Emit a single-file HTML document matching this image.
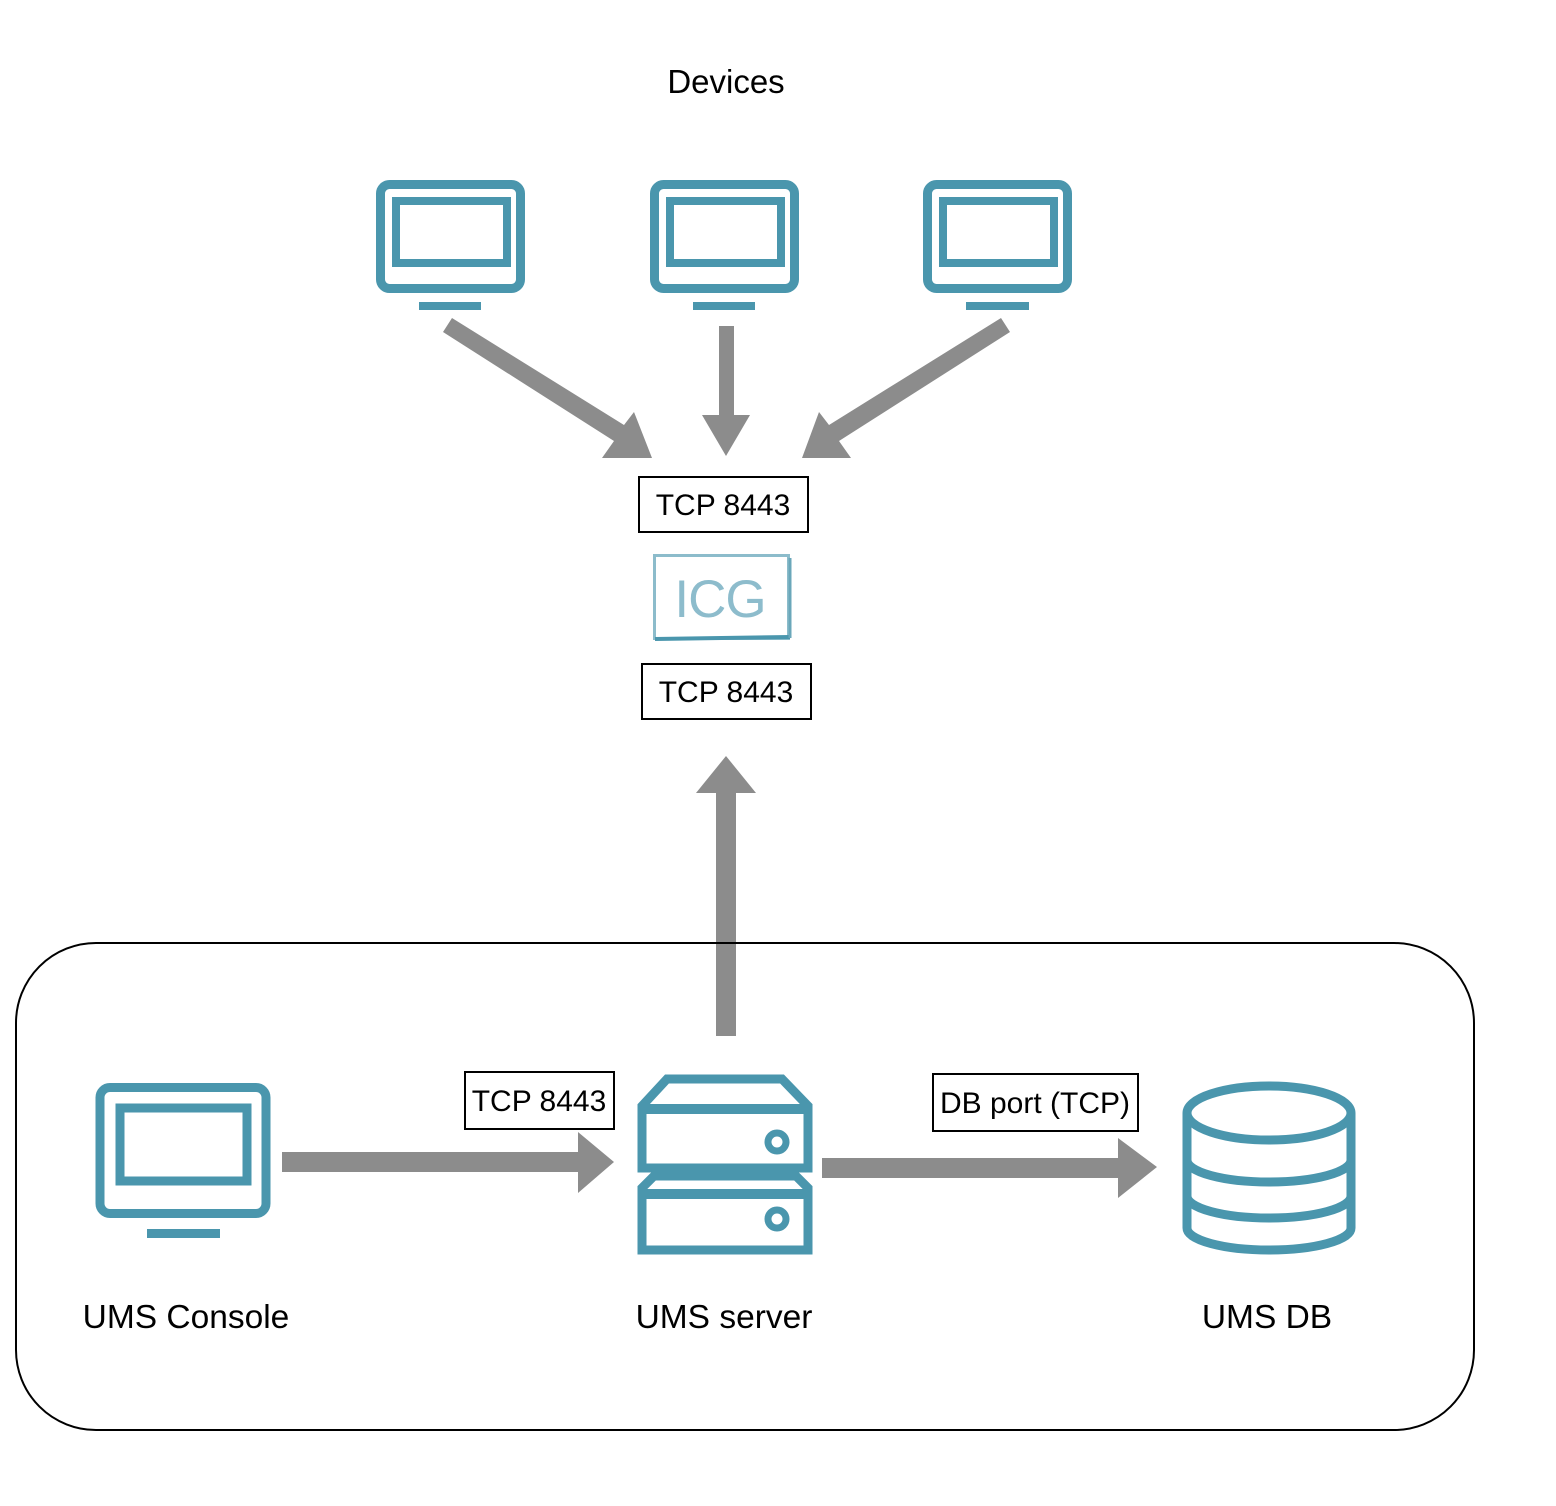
<!DOCTYPE html>
<html><head><meta charset="utf-8"><style>
html,body{margin:0;padding:0;background:#fff;}
svg{display:block;font-family:"Liberation Sans",Arial,sans-serif;}
</style></head><body>
<svg width="1556" height="1506" viewBox="0 0 1556 1506" xmlns="http://www.w3.org/2000/svg">
<rect width="1556" height="1506" fill="#fff"/>
<text x="726" y="93" font-size="33" text-anchor="middle" fill="#000">Devices</text>

<g fill="none" stroke="#4a96ad">
  <rect x="380.5" y="184.5" width="140" height="104" rx="9" stroke-width="9"/>
  <rect x="396" y="201" width="111" height="62" stroke-width="8"/>
  <rect x="654.5" y="184.5" width="140" height="104" rx="9" stroke-width="9"/>
  <rect x="670" y="201" width="111" height="62" stroke-width="8"/>
  <rect x="927.5" y="184.5" width="140" height="104" rx="9" stroke-width="9"/>
  <rect x="943" y="201" width="111" height="62" stroke-width="8"/>
  <rect x="100" y="1087.5" width="166" height="126" rx="10" stroke-width="9"/>
  <rect x="120" y="1108" width="127" height="73" stroke-width="9"/>
  <path d="M642 1168 V1106 L667 1079 H782 L808 1106 V1168 Z" stroke-width="9"/>
  <line x1="640" y1="1109" x2="810" y2="1109" stroke-width="10"/>
  <circle cx="777" cy="1142" r="9" stroke-width="7"/>
  <path d="M642 1250 V1188 L654 1176 H796 L808 1188 V1250 Z" stroke-width="9"/>
  <line x1="640" y1="1194" x2="810" y2="1194" stroke-width="10"/>
  <circle cx="777" cy="1219" r="9" stroke-width="7"/>
  <ellipse cx="1269" cy="1113" rx="82" ry="27" stroke-width="9"/>
  <path d="M1187 1113 V1228 A82 22 0 0 0 1351 1228 V1113" stroke-width="9"/>
  <path d="M1187 1160 A82 22 0 0 0 1351 1160" stroke-width="9"/>
  <path d="M1187 1196 A82 22 0 0 0 1351 1196" stroke-width="9"/>
</g>
<g fill="#4a96ad">
  <rect x="419" y="302" width="62" height="8"/>
  <rect x="693" y="302" width="62" height="8"/>
  <rect x="966" y="302" width="63" height="8"/>
  <rect x="147" y="1229" width="73" height="9"/>
</g>

<g fill="#8c8c8c">
  <polygon points="443,332 452,318 624,425 634,412 652,458 602,458 614,441"/>
  <polygon points="719,326 734,326 734,415 750,415 726,456 702,415 719,415"/>
  <polygon points="1010,332 1001,318 829,425 819,412 802,458 851,458 839,441"/>
  <polygon points="716,1036 736,1036 736,793 756,793 726,756 696,793 716,793"/>
  <polygon points="282,1152 578,1152 578,1132 614,1162 578,1193 578,1172 282,1172"/>
  <polygon points="822,1158 1118,1158 1118,1138 1157,1167 1118,1198 1118,1178 822,1178"/>
</g>

<g fill="#fff" stroke="#000" stroke-width="2">
  <rect x="639" y="477" width="169" height="55"/>
  <rect x="642" y="664" width="169" height="55"/>
  <rect x="465" y="1072" width="149" height="57"/>
  <rect x="933" y="1074" width="205" height="57"/>
</g>
<g font-size="30" fill="#000" text-anchor="middle">
  <text x="723" y="515">TCP 8443</text>
  <text x="726" y="702">TCP 8443</text>
  <text x="539" y="1111">TCP 8443</text>
  <text x="1035" y="1113">DB port (TCP)</text>
</g>

<rect x="654.5" y="555.5" width="134" height="83" fill="#fff" stroke="#8cbccb" stroke-width="3"/>
<line x1="655" y1="639" x2="790" y2="637" stroke="#4a96ad" stroke-width="4"/>
<line x1="790" y1="558" x2="790" y2="638" stroke="#6aa7ba" stroke-width="3"/>
<text x="720" y="617" font-size="53" text-anchor="middle" fill="#8dbccc" letter-spacing="-1">ICG</text>

<rect x="16" y="943" width="1458" height="487" rx="80" fill="none" stroke="#000" stroke-width="2"/>

<g font-size="33.5" fill="#000" text-anchor="middle">
  <text x="186" y="1328">UMS Console</text>
  <text x="724" y="1328">UMS server</text>
  <text x="1267" y="1328">UMS DB</text>
</g>
</svg>
</body></html>
